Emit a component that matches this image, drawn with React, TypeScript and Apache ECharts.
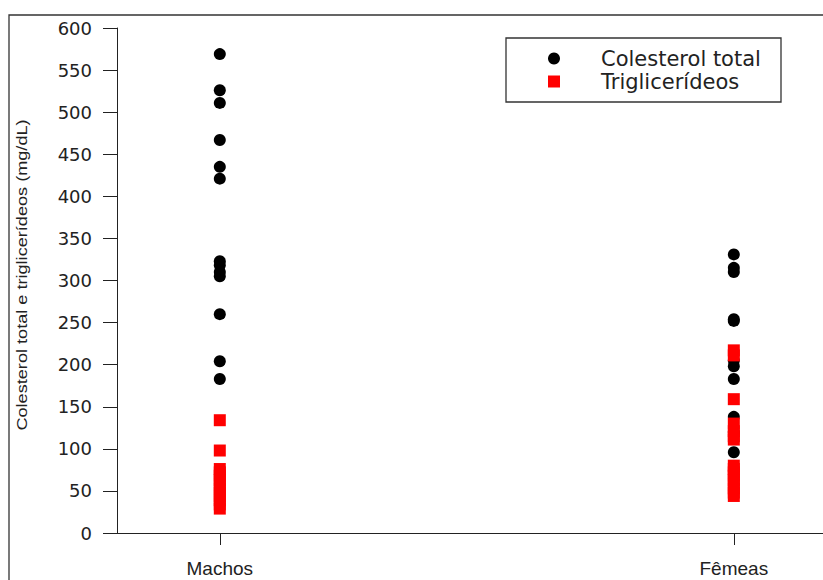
import React, { useEffect, useRef } from "react";
import * as echarts from "echarts";

const categories = ["Machos", "Fêmeas"];
const categoryPositions = [1, 2];
const yTicks = { min: 0, max: 600, interval: 50 };

const machosColesterol = [569, 526, 511, 467, 435, 421, 323, 318, 310, 305, 260, 204, 183];
const machosTriglicerideos = [134, 98, 76, 72, 68, 63, 58, 53, 48, 44, 39, 34, 29];
const femeasColesterol = [331, 315, 310, 254, 252, 205, 198, 183, 138, 120, 96];
const femeasTriglicerideos = [217, 211, 159, 130, 121, 115, 111, 80, 76, 72, 68, 63, 58, 53, 48, 44];

const seriesNames = ["Colesterol total", "Triglicerídeos"];
const yTitle = "Colesterol total e triglicerídeos (mg/dL)";

export default function App() {
  const ref = useRef<HTMLDivElement>(null);
  useEffect(() => {
    if (!ref.current) return;
    const chart = echarts.init(ref.current, null, { renderer: "svg" });
    const toPts = (x: number, arr: number[]) => arr.map((v) => [x, v]);
    const chol = [
      ...toPts(categoryPositions[0], machosColesterol),
      ...toPts(categoryPositions[1], femeasColesterol),
    ];
    const tg = [
      ...toPts(categoryPositions[0], machosTriglicerideos),
      ...toPts(categoryPositions[1], femeasTriglicerideos),
    ];
    chart.setOption({
      animation: false,
      backgroundColor: "#ffffff",
      grid: { left: 117, top: 28, right: 0, bottom: 47, containLabel: false, outerBoundsMode: "none" },
      xAxis: {
        type: "value",
        min: 0.8,
        max: 2.1735,
        splitLine: { show: false },
        axisLine: { show: true, onZero: false, lineStyle: { color: "#222", width: 1 } },
        axisTick: { show: true, customValues: categoryPositions, length: 12, inside: false, lineStyle: { color: "#222" } },
        axisLabel: {
          customValues: categoryPositions,
          formatter: (v: number) => categories[categoryPositions.indexOf(Math.round(v))] ?? "",
          fontFamily: "Liberation Sans",
          fontSize: 19,
          color: "#222",
          margin: 26,
        },
      },
      yAxis: {
        type: "value",
        min: yTicks.min,
        max: yTicks.max,
        interval: yTicks.interval,
        splitLine: { show: false },
        axisLine: { show: true, onZero: false, lineStyle: { color: "#222", width: 1 } },
        axisTick: { show: true, length: 14, inside: false, lineStyle: { color: "#222" } },
        axisLabel: { fontFamily: "DejaVu Sans", fontSize: 18, color: "#222", margin: 25 },
      },
      legend: {
        orient: "vertical",
        left: 543,
        top: 43,
        padding: 5,
        itemWidth: 12,
        itemHeight: 12,
        itemGap: 2,
        textStyle: { fontFamily: "DejaVu Sans", fontSize: 21, color: "#222", padding: [0, 0, 0, 36] },
        data: [
          { name: seriesNames[0], icon: "circle" },
          { name: seriesNames[1], icon: "rect" },
        ],
      },
      graphic: [
        {
          type: "rect",
          shape: { x: 9, y: 15, width: 900, height: 700 },
          style: { fill: "none", stroke: "#333", lineWidth: 1.3 },
          silent: true,
          z: -1,
        },
        {
          type: "rect",
          shape: { x: 506, y: 38, width: 275, height: 64 },
          style: { fill: "none", stroke: "#333", lineWidth: 1.3 },
          silent: true,
        },
        {
          type: "text",
          x: 22,
          y: 275,
          rotation: Math.PI / 2,
          scaleX: 1.25,
          style: {
            text: yTitle,
            fontFamily: "Liberation Sans",
            fontSize: 14.5,
            fill: "#222",
            align: "center",
            verticalAlign: "middle",
          },
        },
      ],
      series: [
        {
          name: seriesNames[0],
          type: "scatter",
          symbol: "circle",
          symbolSize: 12,
          itemStyle: { color: "#000000", opacity: 1 },
          data: chol,
        },
        {
          name: seriesNames[1],
          type: "scatter",
          symbol: "rect",
          symbolSize: 12,
          itemStyle: { color: "#ff0000", opacity: 1 },
          data: tg,
        },
      ],
    });
    return () => chart.dispose();
  }, []);
  return (
    <div
      ref={ref}
      style={{ position: "absolute", left: 0, top: 0, width: 823, height: 580 }}
    />
  );
}
